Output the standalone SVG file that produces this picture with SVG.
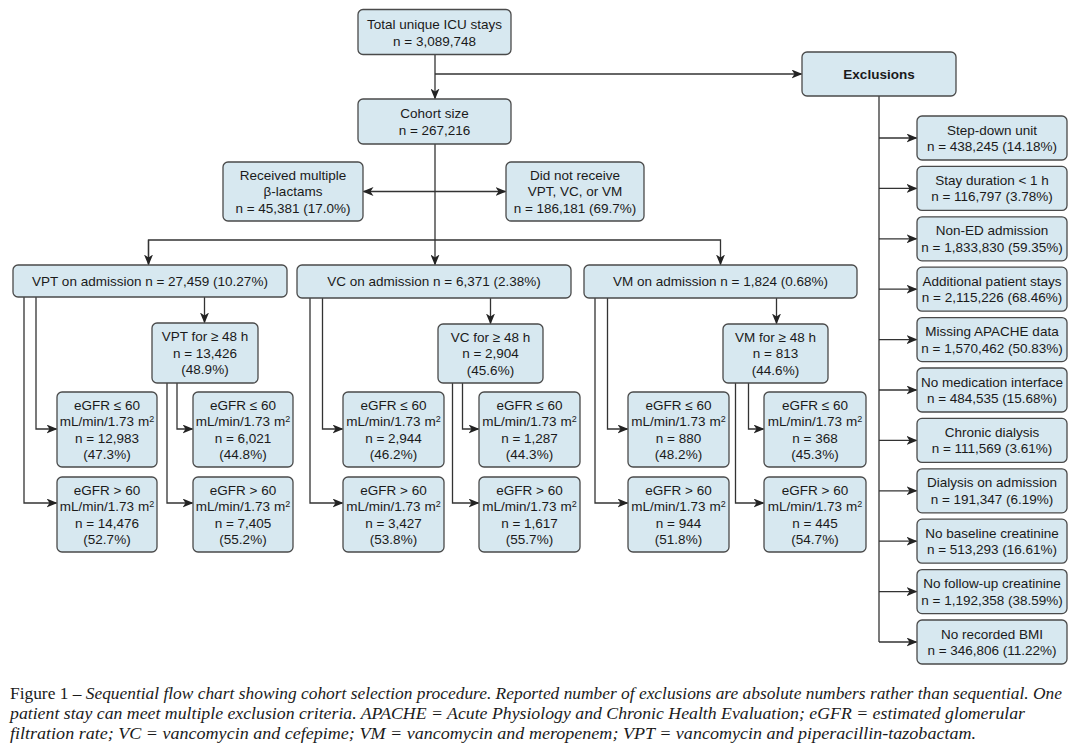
<svg xmlns="http://www.w3.org/2000/svg" width="1080" height="752" viewBox="0 0 1080 752">
<defs>
<marker id="arr" markerUnits="userSpaceOnUse" markerWidth="11" markerHeight="9" refX="10" refY="4.5" orient="auto">
<path d="M0,0 L11,4.5 L0,9 L3,4.5 z" fill="#222"/>
</marker>
<style>
.b{fill:#d7e8f0;stroke:#4a4a4a;stroke-width:1.3}
.t{font-family:"Liberation Sans",Arial,sans-serif;font-size:13.5px;fill:#1a1a1a;text-anchor:middle}
.bold{font-weight:bold}
.c path{fill:none;stroke:#333;stroke-width:1.3}
.cap{font-family:"Liberation Serif","Times New Roman",serif;font-size:16px;fill:#1a1a1a}
</style>
</defs>
<rect width="1080" height="752" fill="#fff"/>

<g class="c" id="connectors">
<path d="M435,54 V98.5" marker-end="url(#arr)"/>
<path d="M435,74 H801.5" marker-end="url(#arr)"/>
<path d="M435,144 V264.5" marker-end="url(#arr)"/>
<path d="M435,191.5 H363.5" marker-end="url(#arr)"/>
<path d="M435,191.5 H505.5" marker-end="url(#arr)"/>
<path d="M148.5,264.5 V240 H720.5 V264.5" marker-end="url(#arr)"/>
<path d="M148.5,240 V264.5" marker-end="url(#arr)"/>
<!-- VPT -->
<path d="M36,297 V429 H56.5" marker-end="url(#arr)"/>
<path d="M24,297 V503 H56.5" marker-end="url(#arr)"/>
<path d="M204.5,297 V322.5" marker-end="url(#arr)"/>
<path d="M177,383 V429 H192.5" marker-end="url(#arr)"/>
<path d="M167,383 V503 H192.5" marker-end="url(#arr)"/>
<!-- VC -->
<path d="M322.5,298 V429 H342.5" marker-end="url(#arr)"/>
<path d="M310,298 V503 H342.5" marker-end="url(#arr)"/>
<path d="M490.5,298 V323.5" marker-end="url(#arr)"/>
<path d="M462.5,383 V429 H478.5" marker-end="url(#arr)"/>
<path d="M452.5,383 V503 H478.5" marker-end="url(#arr)"/>
<!-- VM -->
<path d="M607.5,298 V429 H627.5" marker-end="url(#arr)"/>
<path d="M595,298 V503 H627.5" marker-end="url(#arr)"/>
<path d="M776.5,298 V323.5" marker-end="url(#arr)"/>
<path d="M748.5,383 V429 H763.5" marker-end="url(#arr)"/>
<path d="M735.5,383 V503 H763.5" marker-end="url(#arr)"/>
<!-- Exclusions -->
<path d="M879,96 V642"/>
<path d="M879,138 H916.5" marker-end="url(#arr)"/>
<path d="M879,188.4 H916.5" marker-end="url(#arr)"/>
<path d="M879,238.8 H916.5" marker-end="url(#arr)"/>
<path d="M879,289.2 H916.5" marker-end="url(#arr)"/>
<path d="M879,339.6 H916.5" marker-end="url(#arr)"/>
<path d="M879,390 H916.5" marker-end="url(#arr)"/>
<path d="M879,440.4 H916.5" marker-end="url(#arr)"/>
<path d="M879,490.8 H916.5" marker-end="url(#arr)"/>
<path d="M879,541.2 H916.5" marker-end="url(#arr)"/>
<path d="M879,591.6 H916.5" marker-end="url(#arr)"/>
<path d="M879,642 H916.5" marker-end="url(#arr)"/>
</g>

<g id="total"><rect class="b" x="358" y="9.5" width="153" height="45" rx="5"/>
<text class="t" x="434.5" y="29">Total unique ICU stays</text><text class="t" x="434.5" y="45.5">n = 3,089,748</text></g>

<g id="cohort"><rect class="b" x="358" y="99" width="153" height="45" rx="5"/>
<text class="t" x="434.5" y="118">Cohort size</text><text class="t" x="434.5" y="134.5">n = 267,216</text></g>

<g id="multiple"><rect class="b" x="223" y="162" width="140" height="59" rx="5"/>
<text class="t" x="293" y="179.7">Received multiple</text><text class="t" x="293" y="196.2">β-lactams</text><text class="t" x="293" y="212.7">n = 45,381 (17.0%)</text></g>

<g id="notreceive"><rect class="b" x="506" y="162" width="138" height="59" rx="5"/>
<text class="t" x="575" y="179.7">Did not receive</text><text class="t" x="575" y="196.2">VPT, VC, or VM</text><text class="t" x="575" y="212.7">n = 186,181 (69.7%)</text></g>

<g id="exclusions"><rect class="b" x="802" y="52" width="154" height="44" rx="5"/>
<text class="t bold" x="879" y="78.7">Exclusions</text></g>

<g id="vpt"><rect class="b" x="13" y="265" width="274" height="32" rx="5"/>
<text class="t" x="150" y="285.7">VPT on admission n = 27,459 (10.27%)</text></g>
<g id="vc"><rect class="b" x="297" y="265" width="274" height="33" rx="5"/>
<text class="t" x="434" y="286">VC on admission n = 6,371 (2.38%)</text></g>
<g id="vm"><rect class="b" x="584" y="265" width="273" height="33" rx="5"/>
<text class="t" x="720.5" y="286">VM on admission n = 1,824 (0.68%)</text></g>

<g id="vpt48"><rect class="b" x="152" y="323" width="106" height="60" rx="5"/>
<text class="t" x="205" y="341.2">VPT for ≥ 48 h</text><text class="t" x="205" y="357.7">n = 13,426</text><text class="t" x="205" y="374.2">(48.9%)</text></g>
<g id="vc48"><rect class="b" x="438" y="324" width="105" height="59" rx="5"/>
<text class="t" x="490.5" y="341.7">VC for ≥ 48 h</text><text class="t" x="490.5" y="358.2">n = 2,904</text><text class="t" x="490.5" y="374.7">(45.6%)</text></g>
<g id="vm48"><rect class="b" x="723" y="324" width="105" height="59" rx="5"/>
<text class="t" x="775.5" y="341.7">VM for ≥ 48 h</text><text class="t" x="775.5" y="358.2">n = 813</text><text class="t" x="775.5" y="374.7">(44.6%)</text></g>

<g id="vpt-le"><rect class="b" x="57" y="392" width="100" height="75" rx="5"/>
<text class="t" x="107" y="409.5">eGFR ≤ 60</text><text class="t" x="107" y="426">mL/min/1.73 m<tspan font-size="9" dy="-4">2</tspan></text><text class="t" x="107" y="442.5">n = 12,983</text><text class="t" x="107" y="459">(47.3%)</text></g>
<g id="vpt-gt"><rect class="b" x="57" y="477" width="100" height="75" rx="5"/>
<text class="t" x="107" y="494.5">eGFR &gt; 60</text><text class="t" x="107" y="511">mL/min/1.73 m<tspan font-size="9" dy="-4">2</tspan></text><text class="t" x="107" y="527.5">n = 14,476</text><text class="t" x="107" y="544">(52.7%)</text></g>
<g id="vpt48-le"><rect class="b" x="193" y="392" width="100" height="75" rx="5"/>
<text class="t" x="243" y="409.5">eGFR ≤ 60</text><text class="t" x="243" y="426">mL/min/1.73 m<tspan font-size="9" dy="-4">2</tspan></text><text class="t" x="243" y="442.5">n = 6,021</text><text class="t" x="243" y="459">(44.8%)</text></g>
<g id="vpt48-gt"><rect class="b" x="193" y="477" width="100" height="75" rx="5"/>
<text class="t" x="243" y="494.5">eGFR &gt; 60</text><text class="t" x="243" y="511">mL/min/1.73 m<tspan font-size="9" dy="-4">2</tspan></text><text class="t" x="243" y="527.5">n = 7,405</text><text class="t" x="243" y="544">(55.2%)</text></g>

<g id="vc-le"><rect class="b" x="343" y="392" width="101" height="75" rx="5"/>
<text class="t" x="393.5" y="409.5">eGFR ≤ 60</text><text class="t" x="393.5" y="426">mL/min/1.73 m<tspan font-size="9" dy="-4">2</tspan></text><text class="t" x="393.5" y="442.5">n = 2,944</text><text class="t" x="393.5" y="459">(46.2%)</text></g>
<g id="vc-gt"><rect class="b" x="343" y="477" width="101" height="75" rx="5"/>
<text class="t" x="393.5" y="494.5">eGFR &gt; 60</text><text class="t" x="393.5" y="511">mL/min/1.73 m<tspan font-size="9" dy="-4">2</tspan></text><text class="t" x="393.5" y="527.5">n = 3,427</text><text class="t" x="393.5" y="544">(53.8%)</text></g>
<g id="vc48-le"><rect class="b" x="479" y="392" width="101" height="75" rx="5"/>
<text class="t" x="529.5" y="409.5">eGFR ≤ 60</text><text class="t" x="529.5" y="426">mL/min/1.73 m<tspan font-size="9" dy="-4">2</tspan></text><text class="t" x="529.5" y="442.5">n = 1,287</text><text class="t" x="529.5" y="459">(44.3%)</text></g>
<g id="vc48-gt"><rect class="b" x="479" y="477" width="101" height="75" rx="5"/>
<text class="t" x="529.5" y="494.5">eGFR &gt; 60</text><text class="t" x="529.5" y="511">mL/min/1.73 m<tspan font-size="9" dy="-4">2</tspan></text><text class="t" x="529.5" y="527.5">n = 1,617</text><text class="t" x="529.5" y="544">(55.7%)</text></g>

<g id="vm-le"><rect class="b" x="628" y="392" width="101" height="75" rx="5"/>
<text class="t" x="678.5" y="409.5">eGFR ≤ 60</text><text class="t" x="678.5" y="426">mL/min/1.73 m<tspan font-size="9" dy="-4">2</tspan></text><text class="t" x="678.5" y="442.5">n = 880</text><text class="t" x="678.5" y="459">(48.2%)</text></g>
<g id="vm-gt"><rect class="b" x="628" y="477" width="101" height="75" rx="5"/>
<text class="t" x="678.5" y="494.5">eGFR &gt; 60</text><text class="t" x="678.5" y="511">mL/min/1.73 m<tspan font-size="9" dy="-4">2</tspan></text><text class="t" x="678.5" y="527.5">n = 944</text><text class="t" x="678.5" y="544">(51.8%)</text></g>
<g id="vm48-le"><rect class="b" x="764" y="392" width="102" height="75" rx="5"/>
<text class="t" x="815" y="409.5">eGFR ≤ 60</text><text class="t" x="815" y="426">mL/min/1.73 m<tspan font-size="9" dy="-4">2</tspan></text><text class="t" x="815" y="442.5">n = 368</text><text class="t" x="815" y="459">(45.3%)</text></g>
<g id="vm48-gt"><rect class="b" x="764" y="477" width="102" height="75" rx="5"/>
<text class="t" x="815" y="494.5">eGFR &gt; 60</text><text class="t" x="815" y="511">mL/min/1.73 m<tspan font-size="9" dy="-4">2</tspan></text><text class="t" x="815" y="527.5">n = 445</text><text class="t" x="815" y="544">(54.7%)</text></g>

<g id="ex1"><rect class="b" x="917" y="116" width="150" height="44" rx="5"/>
<text class="t" x="992" y="134.5">Step-down unit</text><text class="t" x="992" y="151">n = 438,245 (14.18%)</text></g>
<g id="ex2"><rect class="b" x="917" y="166.4" width="150" height="44" rx="5"/>
<text class="t" x="992" y="184.9">Stay duration &lt; 1 h</text><text class="t" x="992" y="201.4">n = 116,797 (3.78%)</text></g>
<g id="ex3"><rect class="b" x="917" y="216.8" width="150" height="44" rx="5"/>
<text class="t" x="992" y="235.3">Non-ED admission</text><text class="t" x="992" y="251.8">n = 1,833,830 (59.35%)</text></g>
<g id="ex4"><rect class="b" x="917" y="267.2" width="150" height="44" rx="5"/>
<text class="t" x="992" y="285.7">Additional patient stays</text><text class="t" x="992" y="302.2">n = 2,115,226 (68.46%)</text></g>
<g id="ex5"><rect class="b" x="917" y="317.6" width="150" height="44" rx="5"/>
<text class="t" x="992" y="336.1">Missing APACHE data</text><text class="t" x="992" y="352.6">n = 1,570,462 (50.83%)</text></g>
<g id="ex6"><rect class="b" x="917" y="368" width="150" height="44" rx="5"/>
<text class="t" x="992" y="386.5">No medication interface</text><text class="t" x="992" y="403">n = 484,535 (15.68%)</text></g>
<g id="ex7"><rect class="b" x="917" y="418.4" width="150" height="44" rx="5"/>
<text class="t" x="992" y="436.9">Chronic dialysis</text><text class="t" x="992" y="453.4">n = 111,569 (3.61%)</text></g>
<g id="ex8"><rect class="b" x="917" y="468.8" width="150" height="44" rx="5"/>
<text class="t" x="992" y="487.3">Dialysis on admission</text><text class="t" x="992" y="503.8">n = 191,347 (6.19%)</text></g>
<g id="ex9"><rect class="b" x="917" y="519.2" width="150" height="44" rx="5"/>
<text class="t" x="992" y="537.7">No baseline creatinine</text><text class="t" x="992" y="554.2">n = 513,293 (16.61%)</text></g>
<g id="ex10"><rect class="b" x="917" y="569.6" width="150" height="44" rx="5"/>
<text class="t" x="992" y="588.1">No follow-up creatinine</text><text class="t" x="992" y="604.6">n = 1,192,358 (38.59%)</text></g>
<g id="ex11"><rect class="b" x="917" y="620" width="150" height="44" rx="5"/>
<text class="t" x="992" y="638.5">No recorded BMI</text><text class="t" x="992" y="655">n = 346,806 (11.22%)</text></g>

<g id="caption">
<text class="cap" x="10" y="699" textLength="1052" lengthAdjust="spacingAndGlyphs">Figure 1 – <tspan font-style="italic">Sequential flow chart showing cohort selection procedure. Reported number of exclusions are absolute numbers rather than sequential. One</tspan></text>
<text class="cap" x="10" y="719" font-style="italic" textLength="1015" lengthAdjust="spacingAndGlyphs">patient stay can meet multiple exclusion criteria. APACHE = Acute Physiology and Chronic Health Evaluation; eGFR = estimated glomerular</text>
<text class="cap" x="10" y="739" font-style="italic" textLength="966" lengthAdjust="spacingAndGlyphs">filtration rate; VC = vancomycin and cefepime; VM = vancomycin and meropenem; VPT = vancomycin and piperacillin-tazobactam.</text>
</g>
</svg>
